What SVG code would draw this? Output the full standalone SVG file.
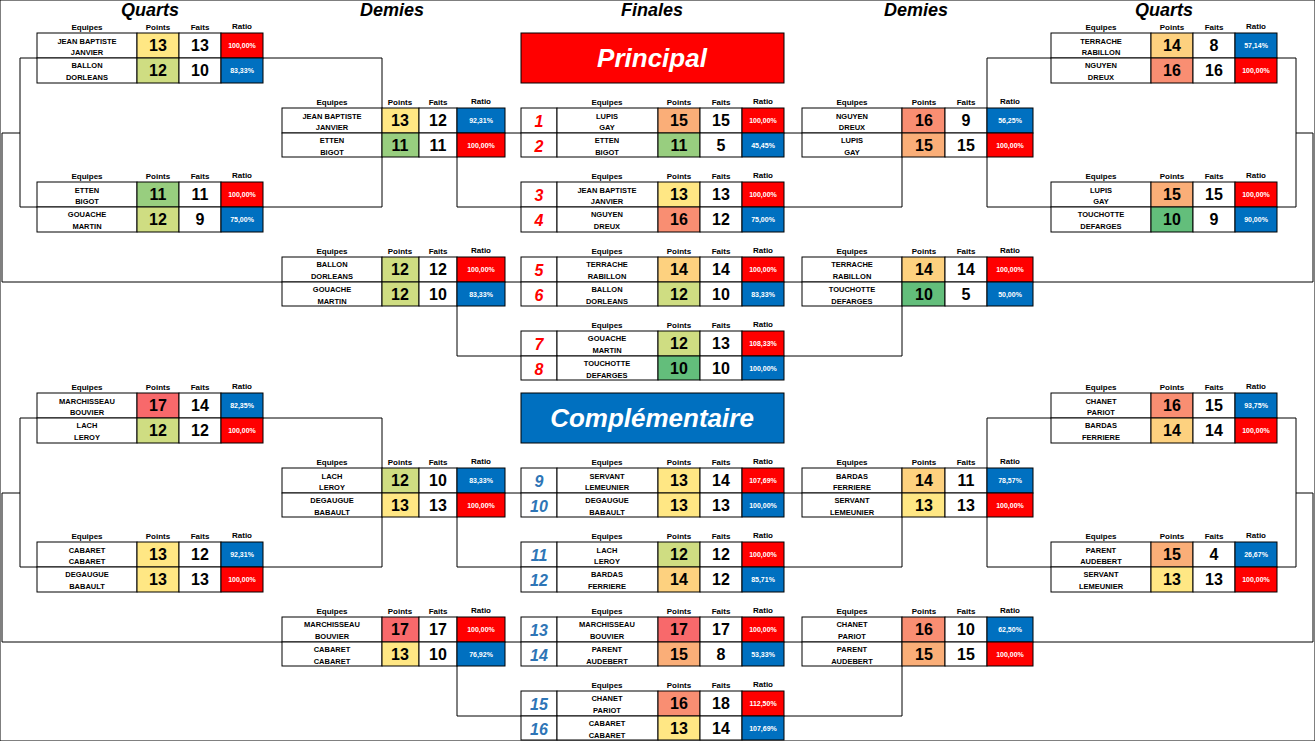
<svg xmlns="http://www.w3.org/2000/svg" width="1315" height="741" viewBox="0 0 1315 741">
<style>
text{font-family:"Liberation Sans",Arial,sans-serif;font-weight:bold;text-anchor:middle}
.h{font-size:8px}
.n{font-size:7.5px}
.p{font-size:16px}
.r{font-size:7px;fill:#fff}
.t{font-size:18px;font-style:italic}
.num{font-size:16px;font-style:italic;fill:#f00}
.numb{font-size:16px;font-style:italic;fill:#2e75b6}
.ban{font-size:26px;font-style:italic;fill:#fff}
rect{stroke:#000;stroke-width:1}
.w{fill:#fff}.R{fill:#f00}.B{fill:#0070c0}
.c10{fill:#63be7b}.c11{fill:#98ce7f}.c12{fill:#cfdd82}.c13{fill:#ffe784}.c14{fill:#fdd17f}.c15{fill:#faae78}.c16{fill:#f98e72}.c17{fill:#f8696b}
.ln{fill:none;stroke:#000;stroke-width:1}
</style>
<rect width="1315" height="741" fill="#fff" stroke="none"/>
<g id="titles">
<text class="t" x="150" y="16">Quarts</text><text class="t" x="392" y="16">Demies</text><text class="t" x="652" y="16">Finales</text><text class="t" x="916" y="16">Demies</text><text class="t" x="1164" y="16">Quarts</text>
</g>
<g id="banner-principal"><rect x="521" y="33" width="263" height="50" class="R"/><text class="ban" x="652" y="67">Principal</text></g>
<g id="banner-comp"><rect x="521" y="393" width="263" height="50" class="B"/><text class="ban" x="652" y="427">Complémentaire</text></g>
<g id="connectors">
<path class="ln" d="M20 58H382V207H20ZM2 282V133H20M2 282H282M505 133H521M457 157V207H521M505 282H521M457 306V356H521"/>
<path class="ln" d="M1296 58H987V207H1296ZM1313 282V133H1296M1313 282H1033M784 133H802M902 157V207H784M784 282H802M902 306V356H784"/>
<path class="ln" d="M20 418H382V567H20ZM2 642V493H20M2 642H282M505 493H521M457 517V567H521M505 642H521M457 666V716H521"/>
<path class="ln" d="M1296 418H987V567H1296ZM1313 642V493H1296M1313 642H1033M784 493H802M902 517V567H784M784 642H802M902 666V716H784"/>
</g>
<!-- Quarter left principal 1 -->
<g id="qlp1"><text class="h" x="87" y="30">Equipes</text><text class="h" x="158" y="30">Points</text><text class="h" x="200" y="30">Faits</text><text class="h" x="242" y="29">Ratio</text>
<rect x="37" y="33" width="100" height="25" class="w"/><rect x="137" y="33" width="42" height="25" class="c13"/><rect x="179" y="33" width="42" height="25" class="w"/><rect x="221" y="33" width="42" height="25" class="R"/>
<text class="n" x="87" y="44">JEAN BAPTISTE</text><text class="n" x="87" y="55">JANVIER</text><text class="p" x="158" y="51">13</text><text class="p" x="200" y="51">13</text><text class="r" x="242" y="48">100,00%</text>
<rect x="37" y="58" width="100" height="25" class="w"/><rect x="137" y="58" width="42" height="25" class="c12"/><rect x="179" y="58" width="42" height="25" class="w"/><rect x="221" y="58" width="42" height="25" class="B"/>
<text class="n" x="87" y="68">BALLON</text><text class="n" x="87" y="80">DORLEANS</text><text class="p" x="158" y="76">12</text><text class="p" x="200" y="76">10</text><text class="r" x="242" y="73">83,33%</text></g>
<g id="qlp2"><text class="h" x="87" y="179">Equipes</text><text class="h" x="158" y="179">Points</text><text class="h" x="200" y="179">Faits</text><text class="h" x="242" y="178">Ratio</text>
<rect x="37" y="182" width="100" height="25" class="w"/><rect x="137" y="182" width="42" height="25" class="c11"/><rect x="179" y="182" width="42" height="25" class="w"/><rect x="221" y="182" width="42" height="25" class="R"/>
<text class="n" x="87" y="193">ETTEN</text><text class="n" x="87" y="204">BIGOT</text><text class="p" x="158" y="200">11</text><text class="p" x="200" y="200">11</text><text class="r" x="242" y="197">100,00%</text>
<rect x="37" y="207" width="100" height="25" class="w"/><rect x="137" y="207" width="42" height="25" class="c12"/><rect x="179" y="207" width="42" height="25" class="w"/><rect x="221" y="207" width="42" height="25" class="B"/>
<text class="n" x="87" y="217">GOUACHE</text><text class="n" x="87" y="229">MARTIN</text><text class="p" x="158" y="225">12</text><text class="p" x="200" y="225">9</text><text class="r" x="242" y="222">75,00%</text></g>
<g id="slp1"><text class="h" x="332" y="105">Equipes</text><text class="h" x="400" y="105">Points</text><text class="h" x="438" y="105">Faits</text><text class="h" x="481" y="104">Ratio</text>
<rect x="282" y="108" width="100" height="25" class="w"/><rect x="382" y="108" width="37" height="25" class="c13"/><rect x="419" y="108" width="38" height="25" class="w"/><rect x="457" y="108" width="48" height="25" class="B"/>
<text class="n" x="332" y="119">JEAN BAPTISTE</text><text class="n" x="332" y="130">JANVIER</text><text class="p" x="400" y="126">13</text><text class="p" x="438" y="126">12</text><text class="r" x="481" y="123">92,31%</text>
<rect x="282" y="133" width="100" height="24" class="w"/><rect x="382" y="133" width="37" height="24" class="c11"/><rect x="419" y="133" width="38" height="24" class="w"/><rect x="457" y="133" width="48" height="24" class="R"/>
<text class="n" x="332" y="143">ETTEN</text><text class="n" x="332" y="155">BIGOT</text><text class="p" x="400" y="151">11</text><text class="p" x="438" y="151">11</text><text class="r" x="481" y="148">100,00%</text></g>
<g id="slp2"><text class="h" x="332" y="254">Equipes</text><text class="h" x="400" y="254">Points</text><text class="h" x="438" y="254">Faits</text><text class="h" x="481" y="253">Ratio</text>
<rect x="282" y="257" width="100" height="25" class="w"/><rect x="382" y="257" width="37" height="25" class="c12"/><rect x="419" y="257" width="38" height="25" class="w"/><rect x="457" y="257" width="48" height="25" class="R"/>
<text class="n" x="332" y="267">BALLON</text><text class="n" x="332" y="279">DORLEANS</text><text class="p" x="400" y="275">12</text><text class="p" x="438" y="275">12</text><text class="r" x="481" y="272">100,00%</text>
<rect x="282" y="282" width="100" height="24" class="w"/><rect x="382" y="282" width="37" height="24" class="c12"/><rect x="419" y="282" width="38" height="24" class="w"/><rect x="457" y="282" width="48" height="24" class="B"/>
<text class="n" x="332" y="292">GOUACHE</text><text class="n" x="332" y="304">MARTIN</text><text class="p" x="400" y="300">12</text><text class="p" x="438" y="300">10</text><text class="r" x="481" y="297">83,33%</text></g>
<!-- finals principal -->
<g id="fp12"><text class="h" x="607" y="105">Equipes</text><text class="h" x="679" y="105">Points</text><text class="h" x="721" y="105">Faits</text><text class="h" x="763" y="104">Ratio</text>
<rect x="521" y="108" width="36" height="25" class="w"/><rect x="557" y="108" width="101" height="25" class="w"/><rect x="658" y="108" width="42" height="25" class="c15"/><rect x="700" y="108" width="42" height="25" class="w"/><rect x="742" y="108" width="42" height="25" class="R"/>
<text class="num" x="539" y="127">1</text><text class="n" x="607" y="119">LUPIS</text><text class="n" x="607" y="130">GAY</text><text class="p" x="679" y="126">15</text><text class="p" x="721" y="126">15</text><text class="r" x="763" y="123">100,00%</text>
<rect x="521" y="133" width="36" height="24" class="w"/><rect x="557" y="133" width="101" height="24" class="w"/><rect x="658" y="133" width="42" height="24" class="c11"/><rect x="700" y="133" width="42" height="24" class="w"/><rect x="742" y="133" width="42" height="24" class="B"/>
<text class="num" x="539" y="152">2</text><text class="n" x="607" y="143">ETTEN</text><text class="n" x="607" y="155">BIGOT</text><text class="p" x="679" y="151">11</text><text class="p" x="721" y="151">5</text><text class="r" x="763" y="148">45,45%</text></g>
<g id="fp34"><text class="h" x="607" y="179">Equipes</text><text class="h" x="679" y="179">Points</text><text class="h" x="721" y="179">Faits</text><text class="h" x="763" y="178">Ratio</text>
<rect x="521" y="182" width="36" height="25" class="w"/><rect x="557" y="182" width="101" height="25" class="w"/><rect x="658" y="182" width="42" height="25" class="c13"/><rect x="700" y="182" width="42" height="25" class="w"/><rect x="742" y="182" width="42" height="25" class="R"/>
<text class="num" x="539" y="201">3</text><text class="n" x="607" y="193">JEAN BAPTISTE</text><text class="n" x="607" y="204">JANVIER</text><text class="p" x="679" y="200">13</text><text class="p" x="721" y="200">13</text><text class="r" x="763" y="197">100,00%</text>
<rect x="521" y="207" width="36" height="25" class="w"/><rect x="557" y="207" width="101" height="25" class="w"/><rect x="658" y="207" width="42" height="25" class="c16"/><rect x="700" y="207" width="42" height="25" class="w"/><rect x="742" y="207" width="42" height="25" class="B"/>
<text class="num" x="539" y="226">4</text><text class="n" x="607" y="217">NGUYEN</text><text class="n" x="607" y="229">DREUX</text><text class="p" x="679" y="225">16</text><text class="p" x="721" y="225">12</text><text class="r" x="763" y="222">75,00%</text></g>
<g id="fp56"><text class="h" x="607" y="254">Equipes</text><text class="h" x="679" y="254">Points</text><text class="h" x="721" y="254">Faits</text><text class="h" x="763" y="253">Ratio</text>
<rect x="521" y="257" width="36" height="25" class="w"/><rect x="557" y="257" width="101" height="25" class="w"/><rect x="658" y="257" width="42" height="25" class="c14"/><rect x="700" y="257" width="42" height="25" class="w"/><rect x="742" y="257" width="42" height="25" class="R"/>
<text class="num" x="539" y="276">5</text><text class="n" x="607" y="267">TERRACHE</text><text class="n" x="607" y="279">RABILLON</text><text class="p" x="679" y="275">14</text><text class="p" x="721" y="275">14</text><text class="r" x="763" y="272">100,00%</text>
<rect x="521" y="282" width="36" height="24" class="w"/><rect x="557" y="282" width="101" height="24" class="w"/><rect x="658" y="282" width="42" height="24" class="c12"/><rect x="700" y="282" width="42" height="24" class="w"/><rect x="742" y="282" width="42" height="24" class="B"/>
<text class="num" x="539" y="301">6</text><text class="n" x="607" y="292">BALLON</text><text class="n" x="607" y="304">DORLEANS</text><text class="p" x="679" y="300">12</text><text class="p" x="721" y="300">10</text><text class="r" x="763" y="297">83,33%</text></g>
<g id="fp78"><text class="h" x="607" y="328">Equipes</text><text class="h" x="679" y="328">Points</text><text class="h" x="721" y="328">Faits</text><text class="h" x="763" y="327">Ratio</text>
<rect x="521" y="331" width="36" height="25" class="w"/><rect x="557" y="331" width="101" height="25" class="w"/><rect x="658" y="331" width="42" height="25" class="c12"/><rect x="700" y="331" width="42" height="25" class="w"/><rect x="742" y="331" width="42" height="25" class="R"/>
<text class="num" x="539" y="350">7</text><text class="n" x="607" y="341">GOUACHE</text><text class="n" x="607" y="353">MARTIN</text><text class="p" x="679" y="349">12</text><text class="p" x="721" y="349">13</text><text class="r" x="763" y="346">108,33%</text>
<rect x="521" y="356" width="36" height="24" class="w"/><rect x="557" y="356" width="101" height="24" class="w"/><rect x="658" y="356" width="42" height="24" class="c10"/><rect x="700" y="356" width="42" height="24" class="w"/><rect x="742" y="356" width="42" height="24" class="B"/>
<text class="num" x="539" y="375">8</text><text class="n" x="607" y="366">TOUCHOTTE</text><text class="n" x="607" y="378">DEFARGES</text><text class="p" x="679" y="374">10</text><text class="p" x="721" y="374">10</text><text class="r" x="763" y="371">100,00%</text></g>
<!-- semi right principal -->
<g id="srp1"><text class="h" x="852" y="105">Equipes</text><text class="h" x="924" y="105">Points</text><text class="h" x="966" y="105">Faits</text><text class="h" x="1010" y="104">Ratio</text>
<rect x="802" y="108" width="100" height="25" class="w"/><rect x="902" y="108" width="43" height="25" class="c16"/><rect x="945" y="108" width="42" height="25" class="w"/><rect x="987" y="108" width="46" height="25" class="B"/>
<text class="n" x="852" y="119">NGUYEN</text><text class="n" x="852" y="130">DREUX</text><text class="p" x="924" y="126">16</text><text class="p" x="966" y="126">9</text><text class="r" x="1010" y="123">56,25%</text>
<rect x="802" y="133" width="100" height="24" class="w"/><rect x="902" y="133" width="43" height="24" class="c15"/><rect x="945" y="133" width="42" height="24" class="w"/><rect x="987" y="133" width="46" height="24" class="R"/>
<text class="n" x="852" y="143">LUPIS</text><text class="n" x="852" y="155">GAY</text><text class="p" x="924" y="151">15</text><text class="p" x="966" y="151">15</text><text class="r" x="1010" y="148">100,00%</text></g>
<g id="srp2"><text class="h" x="852" y="254">Equipes</text><text class="h" x="924" y="254">Points</text><text class="h" x="966" y="254">Faits</text><text class="h" x="1010" y="253">Ratio</text>
<rect x="802" y="257" width="100" height="25" class="w"/><rect x="902" y="257" width="43" height="25" class="c14"/><rect x="945" y="257" width="42" height="25" class="w"/><rect x="987" y="257" width="46" height="25" class="R"/>
<text class="n" x="852" y="267">TERRACHE</text><text class="n" x="852" y="279">RABILLON</text><text class="p" x="924" y="275">14</text><text class="p" x="966" y="275">14</text><text class="r" x="1010" y="272">100,00%</text>
<rect x="802" y="282" width="100" height="24" class="w"/><rect x="902" y="282" width="43" height="24" class="c10"/><rect x="945" y="282" width="42" height="24" class="w"/><rect x="987" y="282" width="46" height="24" class="B"/>
<text class="n" x="852" y="292">TOUCHOTTE</text><text class="n" x="852" y="304">DEFARGES</text><text class="p" x="924" y="300">10</text><text class="p" x="966" y="300">5</text><text class="r" x="1010" y="297">50,00%</text></g>
<!-- quarter right principal -->
<g id="qrp1"><text class="h" x="1101" y="30">Equipes</text><text class="h" x="1172" y="30">Points</text><text class="h" x="1214" y="30">Faits</text><text class="h" x="1256" y="29">Ratio</text>
<rect x="1051" y="33" width="100" height="25" class="w"/><rect x="1151" y="33" width="42" height="25" class="c14"/><rect x="1193" y="33" width="42" height="25" class="w"/><rect x="1235" y="33" width="42" height="25" class="B"/>
<text class="n" x="1101" y="44">TERRACHE</text><text class="n" x="1101" y="55">RABILLON</text><text class="p" x="1172" y="51">14</text><text class="p" x="1214" y="51">8</text><text class="r" x="1256" y="48">57,14%</text>
<rect x="1051" y="58" width="100" height="25" class="w"/><rect x="1151" y="58" width="42" height="25" class="c16"/><rect x="1193" y="58" width="42" height="25" class="w"/><rect x="1235" y="58" width="42" height="25" class="R"/>
<text class="n" x="1101" y="68">NGUYEN</text><text class="n" x="1101" y="80">DREUX</text><text class="p" x="1172" y="76">16</text><text class="p" x="1214" y="76">16</text><text class="r" x="1256" y="73">100,00%</text></g>
<g id="qrp2"><text class="h" x="1101" y="179">Equipes</text><text class="h" x="1172" y="179">Points</text><text class="h" x="1214" y="179">Faits</text><text class="h" x="1256" y="178">Ratio</text>
<rect x="1051" y="182" width="100" height="25" class="w"/><rect x="1151" y="182" width="42" height="25" class="c15"/><rect x="1193" y="182" width="42" height="25" class="w"/><rect x="1235" y="182" width="42" height="25" class="R"/>
<text class="n" x="1101" y="193">LUPIS</text><text class="n" x="1101" y="204">GAY</text><text class="p" x="1172" y="200">15</text><text class="p" x="1214" y="200">15</text><text class="r" x="1256" y="197">100,00%</text>
<rect x="1051" y="207" width="100" height="25" class="w"/><rect x="1151" y="207" width="42" height="25" class="c10"/><rect x="1193" y="207" width="42" height="25" class="w"/><rect x="1235" y="207" width="42" height="25" class="B"/>
<text class="n" x="1101" y="217">TOUCHOTTE</text><text class="n" x="1101" y="229">DEFARGES</text><text class="p" x="1172" y="225">10</text><text class="p" x="1214" y="225">9</text><text class="r" x="1256" y="222">90,00%</text></g>
<!-- ===== Complementaire ===== -->
<g id="qlc1"><text class="h" x="87" y="390">Equipes</text><text class="h" x="158" y="390">Points</text><text class="h" x="200" y="390">Faits</text><text class="h" x="242" y="389">Ratio</text>
<rect x="37" y="393" width="100" height="25" class="w"/><rect x="137" y="393" width="42" height="25" class="c17"/><rect x="179" y="393" width="42" height="25" class="w"/><rect x="221" y="393" width="42" height="25" class="B"/>
<text class="n" x="87" y="404">MARCHISSEAU</text><text class="n" x="87" y="415">BOUVIER</text><text class="p" x="158" y="411">17</text><text class="p" x="200" y="411">14</text><text class="r" x="242" y="408">82,35%</text>
<rect x="37" y="418" width="100" height="25" class="w"/><rect x="137" y="418" width="42" height="25" class="c12"/><rect x="179" y="418" width="42" height="25" class="w"/><rect x="221" y="418" width="42" height="25" class="R"/>
<text class="n" x="87" y="428">LACH</text><text class="n" x="87" y="440">LEROY</text><text class="p" x="158" y="436">12</text><text class="p" x="200" y="436">12</text><text class="r" x="242" y="433">100,00%</text></g>
<g id="qlc2"><text class="h" x="87" y="539">Equipes</text><text class="h" x="158" y="539">Points</text><text class="h" x="200" y="539">Faits</text><text class="h" x="242" y="538">Ratio</text>
<rect x="37" y="542" width="100" height="25" class="w"/><rect x="137" y="542" width="42" height="25" class="c13"/><rect x="179" y="542" width="42" height="25" class="w"/><rect x="221" y="542" width="42" height="25" class="B"/>
<text class="n" x="87" y="553">CABARET</text><text class="n" x="87" y="564">CABARET</text><text class="p" x="158" y="560">13</text><text class="p" x="200" y="560">12</text><text class="r" x="242" y="557">92,31%</text>
<rect x="37" y="567" width="100" height="25" class="w"/><rect x="137" y="567" width="42" height="25" class="c13"/><rect x="179" y="567" width="42" height="25" class="w"/><rect x="221" y="567" width="42" height="25" class="R"/>
<text class="n" x="87" y="577">DEGAUGUE</text><text class="n" x="87" y="589">BABAULT</text><text class="p" x="158" y="585">13</text><text class="p" x="200" y="585">13</text><text class="r" x="242" y="582">100,00%</text></g>
<g id="slc1"><text class="h" x="332" y="465">Equipes</text><text class="h" x="400" y="465">Points</text><text class="h" x="438" y="465">Faits</text><text class="h" x="481" y="464">Ratio</text>
<rect x="282" y="468" width="100" height="25" class="w"/><rect x="382" y="468" width="37" height="25" class="c12"/><rect x="419" y="468" width="38" height="25" class="w"/><rect x="457" y="468" width="48" height="25" class="B"/>
<text class="n" x="332" y="479">LACH</text><text class="n" x="332" y="490">LEROY</text><text class="p" x="400" y="486">12</text><text class="p" x="438" y="486">10</text><text class="r" x="481" y="483">83,33%</text>
<rect x="282" y="493" width="100" height="24" class="w"/><rect x="382" y="493" width="37" height="24" class="c13"/><rect x="419" y="493" width="38" height="24" class="w"/><rect x="457" y="493" width="48" height="24" class="R"/>
<text class="n" x="332" y="503">DEGAUGUE</text><text class="n" x="332" y="515">BABAULT</text><text class="p" x="400" y="511">13</text><text class="p" x="438" y="511">13</text><text class="r" x="481" y="508">100,00%</text></g>
<g id="slc2"><text class="h" x="332" y="614">Equipes</text><text class="h" x="400" y="614">Points</text><text class="h" x="438" y="614">Faits</text><text class="h" x="481" y="613">Ratio</text>
<rect x="282" y="617" width="100" height="25" class="w"/><rect x="382" y="617" width="37" height="25" class="c17"/><rect x="419" y="617" width="38" height="25" class="w"/><rect x="457" y="617" width="48" height="25" class="R"/>
<text class="n" x="332" y="627">MARCHISSEAU</text><text class="n" x="332" y="639">BOUVIER</text><text class="p" x="400" y="635">17</text><text class="p" x="438" y="635">17</text><text class="r" x="481" y="632">100,00%</text>
<rect x="282" y="642" width="100" height="24" class="w"/><rect x="382" y="642" width="37" height="24" class="c13"/><rect x="419" y="642" width="38" height="24" class="w"/><rect x="457" y="642" width="48" height="24" class="B"/>
<text class="n" x="332" y="652">CABARET</text><text class="n" x="332" y="664">CABARET</text><text class="p" x="400" y="660">13</text><text class="p" x="438" y="660">10</text><text class="r" x="481" y="657">76,92%</text></g>
<g id="fc910"><text class="h" x="607" y="465">Equipes</text><text class="h" x="679" y="465">Points</text><text class="h" x="721" y="465">Faits</text><text class="h" x="763" y="464">Ratio</text>
<rect x="521" y="468" width="36" height="25" class="w"/><rect x="557" y="468" width="101" height="25" class="w"/><rect x="658" y="468" width="42" height="25" class="c13"/><rect x="700" y="468" width="42" height="25" class="w"/><rect x="742" y="468" width="42" height="25" class="R"/>
<text class="numb" x="539" y="487">9</text><text class="n" x="607" y="479">SERVANT</text><text class="n" x="607" y="490">LEMEUNIER</text><text class="p" x="679" y="486">13</text><text class="p" x="721" y="486">14</text><text class="r" x="763" y="483">107,69%</text>
<rect x="521" y="493" width="36" height="24" class="w"/><rect x="557" y="493" width="101" height="24" class="w"/><rect x="658" y="493" width="42" height="24" class="c13"/><rect x="700" y="493" width="42" height="24" class="w"/><rect x="742" y="493" width="42" height="24" class="B"/>
<text class="numb" x="539" y="512">10</text><text class="n" x="607" y="503">DEGAUGUE</text><text class="n" x="607" y="515">BABAULT</text><text class="p" x="679" y="511">13</text><text class="p" x="721" y="511">13</text><text class="r" x="763" y="508">100,00%</text></g>
<g id="fc1112"><text class="h" x="607" y="539">Equipes</text><text class="h" x="679" y="539">Points</text><text class="h" x="721" y="539">Faits</text><text class="h" x="763" y="538">Ratio</text>
<rect x="521" y="542" width="36" height="25" class="w"/><rect x="557" y="542" width="101" height="25" class="w"/><rect x="658" y="542" width="42" height="25" class="c12"/><rect x="700" y="542" width="42" height="25" class="w"/><rect x="742" y="542" width="42" height="25" class="R"/>
<text class="numb" x="539" y="561">11</text><text class="n" x="607" y="553">LACH</text><text class="n" x="607" y="564">LEROY</text><text class="p" x="679" y="560">12</text><text class="p" x="721" y="560">12</text><text class="r" x="763" y="557">100,00%</text>
<rect x="521" y="567" width="36" height="25" class="w"/><rect x="557" y="567" width="101" height="25" class="w"/><rect x="658" y="567" width="42" height="25" class="c14"/><rect x="700" y="567" width="42" height="25" class="w"/><rect x="742" y="567" width="42" height="25" class="B"/>
<text class="numb" x="539" y="586">12</text><text class="n" x="607" y="577">BARDAS</text><text class="n" x="607" y="589">FERRIERE</text><text class="p" x="679" y="585">14</text><text class="p" x="721" y="585">12</text><text class="r" x="763" y="582">85,71%</text></g>
<g id="fc1314"><text class="h" x="607" y="614">Equipes</text><text class="h" x="679" y="614">Points</text><text class="h" x="721" y="614">Faits</text><text class="h" x="763" y="613">Ratio</text>
<rect x="521" y="617" width="36" height="25" class="w"/><rect x="557" y="617" width="101" height="25" class="w"/><rect x="658" y="617" width="42" height="25" class="c17"/><rect x="700" y="617" width="42" height="25" class="w"/><rect x="742" y="617" width="42" height="25" class="R"/>
<text class="numb" x="539" y="636">13</text><text class="n" x="607" y="627">MARCHISSEAU</text><text class="n" x="607" y="639">BOUVIER</text><text class="p" x="679" y="635">17</text><text class="p" x="721" y="635">17</text><text class="r" x="763" y="632">100,00%</text>
<rect x="521" y="642" width="36" height="24" class="w"/><rect x="557" y="642" width="101" height="24" class="w"/><rect x="658" y="642" width="42" height="24" class="c15"/><rect x="700" y="642" width="42" height="24" class="w"/><rect x="742" y="642" width="42" height="24" class="B"/>
<text class="numb" x="539" y="661">14</text><text class="n" x="607" y="652">PARENT</text><text class="n" x="607" y="664">AUDEBERT</text><text class="p" x="679" y="660">15</text><text class="p" x="721" y="660">8</text><text class="r" x="763" y="657">53,33%</text></g>
<g id="fc1516"><text class="h" x="607" y="688">Equipes</text><text class="h" x="679" y="688">Points</text><text class="h" x="721" y="688">Faits</text><text class="h" x="763" y="687">Ratio</text>
<rect x="521" y="691" width="36" height="25" class="w"/><rect x="557" y="691" width="101" height="25" class="w"/><rect x="658" y="691" width="42" height="25" class="c16"/><rect x="700" y="691" width="42" height="25" class="w"/><rect x="742" y="691" width="42" height="25" class="R"/>
<text class="numb" x="539" y="710">15</text><text class="n" x="607" y="701">CHANET</text><text class="n" x="607" y="713">PARIOT</text><text class="p" x="679" y="709">16</text><text class="p" x="721" y="709">18</text><text class="r" x="763" y="706">112,50%</text>
<rect x="521" y="716" width="36" height="24" class="w"/><rect x="557" y="716" width="101" height="24" class="w"/><rect x="658" y="716" width="42" height="24" class="c13"/><rect x="700" y="716" width="42" height="24" class="w"/><rect x="742" y="716" width="42" height="24" class="B"/>
<text class="numb" x="539" y="735">16</text><text class="n" x="607" y="726">CABARET</text><text class="n" x="607" y="738">CABARET</text><text class="p" x="679" y="734">13</text><text class="p" x="721" y="734">14</text><text class="r" x="763" y="731">107,69%</text></g>
<g id="src1"><text class="h" x="852" y="465">Equipes</text><text class="h" x="924" y="465">Points</text><text class="h" x="966" y="465">Faits</text><text class="h" x="1010" y="464">Ratio</text>
<rect x="802" y="468" width="100" height="25" class="w"/><rect x="902" y="468" width="43" height="25" class="c14"/><rect x="945" y="468" width="42" height="25" class="w"/><rect x="987" y="468" width="46" height="25" class="B"/>
<text class="n" x="852" y="479">BARDAS</text><text class="n" x="852" y="490">FERRIERE</text><text class="p" x="924" y="486">14</text><text class="p" x="966" y="486">11</text><text class="r" x="1010" y="483">78,57%</text>
<rect x="802" y="493" width="100" height="24" class="w"/><rect x="902" y="493" width="43" height="24" class="c13"/><rect x="945" y="493" width="42" height="24" class="w"/><rect x="987" y="493" width="46" height="24" class="R"/>
<text class="n" x="852" y="503">SERVANT</text><text class="n" x="852" y="515">LEMEUNIER</text><text class="p" x="924" y="511">13</text><text class="p" x="966" y="511">13</text><text class="r" x="1010" y="508">100,00%</text></g>
<g id="src2"><text class="h" x="852" y="614">Equipes</text><text class="h" x="924" y="614">Points</text><text class="h" x="966" y="614">Faits</text><text class="h" x="1010" y="613">Ratio</text>
<rect x="802" y="617" width="100" height="25" class="w"/><rect x="902" y="617" width="43" height="25" class="c16"/><rect x="945" y="617" width="42" height="25" class="w"/><rect x="987" y="617" width="46" height="25" class="B"/>
<text class="n" x="852" y="627">CHANET</text><text class="n" x="852" y="639">PARIOT</text><text class="p" x="924" y="635">16</text><text class="p" x="966" y="635">10</text><text class="r" x="1010" y="632">62,50%</text>
<rect x="802" y="642" width="100" height="24" class="w"/><rect x="902" y="642" width="43" height="24" class="c15"/><rect x="945" y="642" width="42" height="24" class="w"/><rect x="987" y="642" width="46" height="24" class="R"/>
<text class="n" x="852" y="652">PARENT</text><text class="n" x="852" y="664">AUDEBERT</text><text class="p" x="924" y="660">15</text><text class="p" x="966" y="660">15</text><text class="r" x="1010" y="657">100,00%</text></g>
<g id="qrc1"><text class="h" x="1101" y="390">Equipes</text><text class="h" x="1172" y="390">Points</text><text class="h" x="1214" y="390">Faits</text><text class="h" x="1256" y="389">Ratio</text>
<rect x="1051" y="393" width="100" height="25" class="w"/><rect x="1151" y="393" width="42" height="25" class="c16"/><rect x="1193" y="393" width="42" height="25" class="w"/><rect x="1235" y="393" width="42" height="25" class="B"/>
<text class="n" x="1101" y="404">CHANET</text><text class="n" x="1101" y="415">PARIOT</text><text class="p" x="1172" y="411">16</text><text class="p" x="1214" y="411">15</text><text class="r" x="1256" y="408">93,75%</text>
<rect x="1051" y="418" width="100" height="25" class="w"/><rect x="1151" y="418" width="42" height="25" class="c14"/><rect x="1193" y="418" width="42" height="25" class="w"/><rect x="1235" y="418" width="42" height="25" class="R"/>
<text class="n" x="1101" y="428">BARDAS</text><text class="n" x="1101" y="440">FERRIERE</text><text class="p" x="1172" y="436">14</text><text class="p" x="1214" y="436">14</text><text class="r" x="1256" y="433">100,00%</text></g>
<g id="qrc2"><text class="h" x="1101" y="539">Equipes</text><text class="h" x="1172" y="539">Points</text><text class="h" x="1214" y="539">Faits</text><text class="h" x="1256" y="538">Ratio</text>
<rect x="1051" y="542" width="100" height="25" class="w"/><rect x="1151" y="542" width="42" height="25" class="c15"/><rect x="1193" y="542" width="42" height="25" class="w"/><rect x="1235" y="542" width="42" height="25" class="B"/>
<text class="n" x="1101" y="553">PARENT</text><text class="n" x="1101" y="564">AUDEBERT</text><text class="p" x="1172" y="560">15</text><text class="p" x="1214" y="560">4</text><text class="r" x="1256" y="557">26,67%</text>
<rect x="1051" y="567" width="100" height="25" class="w"/><rect x="1151" y="567" width="42" height="25" class="c13"/><rect x="1193" y="567" width="42" height="25" class="w"/><rect x="1235" y="567" width="42" height="25" class="R"/>
<text class="n" x="1101" y="577">SERVANT</text><text class="n" x="1101" y="589">LEMEUNIER</text><text class="p" x="1172" y="585">13</text><text class="p" x="1214" y="585">13</text><text class="r" x="1256" y="582">100,00%</text></g>
</svg>
